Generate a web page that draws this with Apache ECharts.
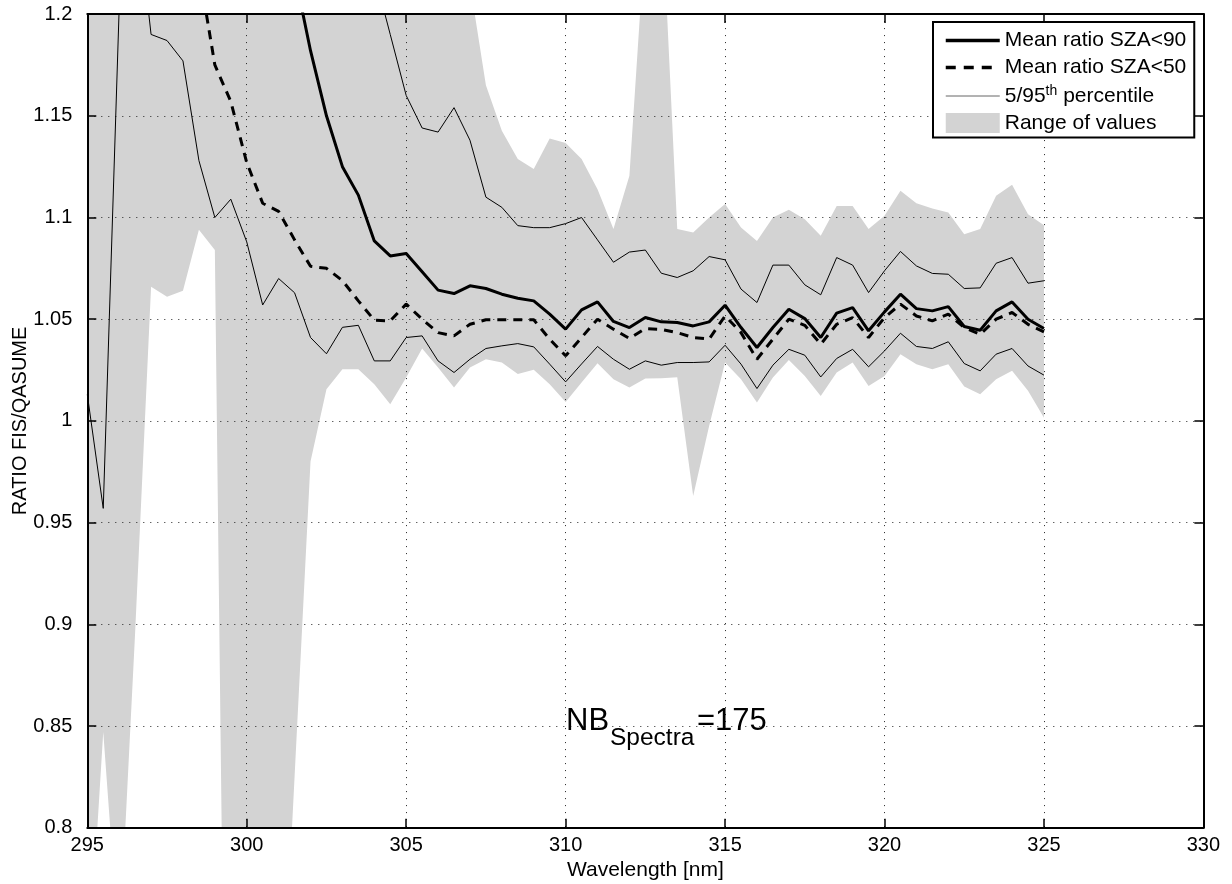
<!DOCTYPE html>
<html>
<head>
<meta charset="utf-8">
<script src="https://cdn.jsdelivr.net/npm/echarts@6/dist/echarts.min.js"></script>
<style>
html,body{margin:0;padding:0;background:#fff;}
#c{width:1232px;height:884px;}
</style>
</head>
<body>
<div id="c"></div>
<script>
// ---------------- data ----------------
const wavelength = [295,295.5,296,296.5,297,297.5,298,298.5,299,299.5,
  300,300.5,301,301.5,302,302.5,303,303.5,304,304.5,
  305,305.5,306,306.5,307,307.5,308,308.5,309,309.5,
  310,310.5,311,311.5,312,312.5,313,313.5,314,314.5,
  315,315.5,316,316.5,317,317.5,318,318.5,319,319.5,
  320,320.5,321,321.5,322,322.5,323,323.5,324,324.5,325];

const rangeMax = [2.0,2.1,2.1,2.0,1.9,1.8,1.72,1.65,1.6,1.55,
  1.5,1.46,1.43,1.40,1.38,1.36,1.34,1.32,1.30,1.29,
  1.28,1.27,1.25,1.235,1.215,1.165,1.1426,1.1287,1.1238,1.1389,
  1.1366,1.1287,1.1139,1.0943,1.1205,1.24,1.26,1.0943,1.0926,1.1,
  1.1066,1.0951,1.0885,1.1,1.1038,1.0992,1.091,1.1057,1.1057,1.0943,
  1.1008,1.1131,1.107,1.1044,1.1025,1.0918,1.0943,1.1107,1.1161,1.1016,1.0962];

const rangeMin = [0.72,0.847,0.74,0.896,1.066,1.061,1.064,1.094,1.084,0.42,
  0.45,0.5,0.67,0.825,0.980,1.0156,1.0254,1.0254,1.018,1.0082,
  1.0213,1.0356,1.0262,1.0164,1.0262,1.0303,1.0287,1.023,1.0251,1.018,
  1.0093,1.0189,1.0284,1.0205,1.0164,1.0208,1.021,1.0215,0.9631,0.9975,
  1.0287,1.0205,1.009,1.0213,1.03,1.0221,1.0123,1.0238,1.0287,1.0172,
  1.0221,1.0328,1.0279,1.0254,1.0279,1.0169,1.0131,1.0205,1.0246,1.0148,1.0016];

const pct5 = [1.013,0.957,1.203,1.26,1.190,1.187,1.177,1.128,1.100,1.109,
  1.088,1.057,1.070,1.063,1.041,1.033,1.046,1.047,1.0295,1.0295,
  1.041,1.0418,1.0295,1.0238,1.0303,1.0356,1.0369,1.038,1.0364,1.0279,
  1.0192,1.028,1.0366,1.0303,1.0254,1.0295,1.0274,1.0287,1.0287,1.029,
  1.0372,1.0279,1.0159,1.0274,1.0352,1.0323,1.0216,1.0307,1.0352,1.0266,
  1.0344,1.0431,1.0366,1.0356,1.0389,1.0282,1.0246,1.0328,1.0356,1.027,1.0225];

const pct95 = [1.70,1.72,1.68,1.62,1.56,1.52,1.48,1.44,1.41,1.38,
  1.36,1.34,1.32,1.30,1.29,1.275,1.26,1.245,1.22,1.19,
  1.160,1.144,1.142,1.154,1.138,1.110,1.105,1.096,1.095,1.095,
  1.097,1.100,1.089,1.078,1.083,1.084,1.0726,1.0705,1.0738,1.0808,
  1.0792,1.0648,1.0582,1.0766,1.0766,1.0669,1.062,1.0803,1.0766,1.0631,
  1.0738,1.0833,1.0762,1.0725,1.0721,1.0651,1.0654,1.0775,1.0803,1.0677,1.0689];

const meanSza90 = [1.55,1.52,1.50,1.47,1.44,1.41,1.38,1.35,1.32,1.30,
  1.28,1.26,1.24,1.22,1.182,1.150,1.125,1.111,1.0885,1.0811,
  1.0823,1.0733,1.0643,1.0626,1.0664,1.0651,1.0623,1.0603,1.059,1.0525,
  1.0451,1.0546,1.0585,1.0489,1.0459,1.0508,1.0487,1.0484,1.0467,1.0487,
  1.0569,1.0459,1.0361,1.0459,1.0549,1.0503,1.041,1.053,1.0557,1.0443,
  1.0536,1.0623,1.0552,1.0541,1.0562,1.0464,1.0446,1.0541,1.0585,1.05,1.0454];

const meanSza50 = [1.42,1.40,1.37,1.34,1.31,1.28,1.25,1.222,1.175,1.157,
  1.127,1.107,1.103,1.089,1.076,1.075,1.069,1.059,1.0495,1.0492,
  1.0574,1.05,1.0434,1.0418,1.0475,1.0497,1.0497,1.0497,1.0497,1.0402,
  1.032,1.041,1.05,1.0451,1.0405,1.0454,1.045,1.0434,1.041,1.0402,
  1.0516,1.0434,1.0303,1.0402,1.05,1.047,1.0377,1.0475,1.0508,1.041,
  1.0508,1.0574,1.0516,1.0492,1.0525,1.0459,1.0426,1.05,1.0533,1.0475,1.0438];

const xTicks = [295, 330, 5];      // min, max, step
const yTicks = [0.8, 1.2, 0.05];   // min, max, step

const legendNames = ['Mean ratio SZA<90', 'Mean ratio SZA<50', '5/95th percentile', 'Range of values'];
const annotation = { base: 'NB', sub: 'Spectra', rest: '=175' };

// ---------------- chart ----------------
const FONT = '"Liberation Sans", Arial, Helvetica, sans-serif';
const GRAY = '#d3d3d3';
const pairs = ys => wavelength.map((w, i) => [w, ys[i]]);

const chart = echarts.init(document.getElementById('c'), null, { renderer: 'canvas' });

const axisLineStyle = { color: '#000', width: 2 };
const tickStyle = { color: '#000', width: 1.5 };
const gridDots = { color: '#222', width: 1, type: [1, 6] };
const hideSymbol = { opacity: 0 };

const option = {
  animation: false,
  backgroundColor: '#fff',
  grid: { left: 87.3, right: 28.6, top: 14.1, bottom: 56.3, outerBoundsMode: 'none', containLabel: false },
  legend: {
    data: [
      { name: legendNames[0], itemStyle: hideSymbol, lineStyle: { color: '#000', width: 3.5, type: 'solid' } },
      { name: legendNames[1], itemStyle: hideSymbol, lineStyle: { color: '#000', width: 3.5, type: [10, 8], cap: 'butt' } },
      { name: legendNames[2], itemStyle: hideSymbol, lineStyle: { color: '#666', width: 1, type: 'solid' } },
      { name: legendNames[3], icon: 'rect' }
    ],
    orient: 'vertical',
    left: 933, top: 22,
    padding: [8, 8, 4, 11],
    itemWidth: 54, itemHeight: 20, itemGap: 6,
    backgroundColor: '#fff',
    borderColor: '#000', borderWidth: 2,
    selectedMode: false,
    formatter: name => name === legendNames[2] ? '{n|5/95}{sup|th}{n| percentile}' : '{n|' + name + '}',
    textStyle: {
      color: '#000', fontFamily: FONT, fontSize: 21,
      rich: {
        n: { color: '#000', fontFamily: FONT, fontSize: 21, lineHeight: 24 },
        sup: { color: '#000', fontFamily: FONT, fontSize: 14, lineHeight: 14, verticalAlign: 'top' }
      }
    }
  },
  xAxis: [
    {
      type: 'value', position: 'bottom', min: xTicks[0], max: xTicks[1], interval: xTicks[2],
      axisLine: { show: true, onZero: false, lineStyle: axisLineStyle },
      axisTick: { show: true, inside: true, length: 9, lineStyle: tickStyle },
      axisLabel: { color: '#000', fontFamily: FONT, fontSize: 20, margin: 8 },
      splitLine: { show: true, lineStyle: gridDots },
      name: 'Wavelength [nm]', nameLocation: 'middle', nameGap: 32, nameMoveOverlap: false,
      nameTextStyle: { color: '#000', fontFamily: FONT, fontSize: 21 }
    },
    {
      type: 'value', position: 'top', min: xTicks[0], max: xTicks[1], interval: xTicks[2],
      axisLine: { show: true, onZero: false, lineStyle: axisLineStyle },
      axisTick: { show: true, inside: true, length: 9, lineStyle: tickStyle },
      axisLabel: { show: false },
      splitLine: { show: false }
    }
  ],
  yAxis: [
    {
      type: 'value', position: 'left', min: yTicks[0], max: yTicks[1], interval: yTicks[2],
      axisLine: { show: true, onZero: false, lineStyle: axisLineStyle },
      axisTick: { show: true, inside: true, length: 9, lineStyle: tickStyle },
      axisLabel: { color: '#000', fontFamily: FONT, fontSize: 20, margin: 15,
        formatter: v => String(parseFloat(v.toFixed(2))) },
      splitLine: { show: true, lineStyle: gridDots },
      name: 'RATIO FIS/QASUME', nameLocation: 'middle', nameGap: 57, nameMoveOverlap: false,
      nameTextStyle: { color: '#000', fontFamily: FONT, fontSize: 20 }
    },
    {
      type: 'value', position: 'right', min: yTicks[0], max: yTicks[1], interval: yTicks[2],
      axisLine: { show: true, onZero: false, lineStyle: axisLineStyle },
      axisTick: { show: true, inside: true, length: 9, lineStyle: tickStyle },
      axisLabel: { show: false },
      splitLine: { show: false }
    }
  ],
  series: [
    {
      type: 'custom', name: legendNames[3], coordinateSystem: 'cartesian2d',
      xAxisIndex: 0, yAxisIndex: 0, z: -1, silent: true,
      itemStyle: { color: GRAY },
      data: wavelength.map((w, i) => [w, rangeMin[i], rangeMax[i]]),
      encode: { x: 0, y: [1, 2] },
      renderItem: function (params, api) {
        if (params.dataIndex !== 0) return null;
        const upper = wavelength.map((w, i) => api.coord([w, rangeMax[i]]));
        const lower = wavelength.map((w, i) => api.coord([w, rangeMin[i]])).reverse();
        const cs = params.coordSys;
        return {
          type: 'polygon',
          shape: { points: upper.concat(lower) },
          style: { fill: GRAY, stroke: null },
          clipPath: { type: 'rect', shape: { x: cs.x, y: cs.y, width: cs.width, height: cs.height } }
        };
      }
    },
    {
      type: 'line', name: legendNames[2], data: pairs(pct5), symbol: 'none', silent: true, clip: true,
      itemStyle: { color: '#000' }, lineStyle: { color: '#000', width: 1 }, z: 3
    },
    {
      type: 'line', name: legendNames[2], data: pairs(pct95), symbol: 'none', silent: true, clip: true,
      itemStyle: { color: '#000' }, lineStyle: { color: '#000', width: 1 }, z: 3
    },
    {
      type: 'line', name: legendNames[1], data: pairs(meanSza50), symbol: 'none', silent: true, clip: true,
      itemStyle: { color: '#000' }, lineStyle: { color: '#000', width: 3, type: [9, 7], cap: 'butt' }, z: 4
    },
    {
      type: 'line', name: legendNames[0], data: pairs(meanSza90), symbol: 'none', silent: true, clip: true,
      itemStyle: { color: '#000' }, lineStyle: { color: '#000', width: 3 }, z: 5
    }
  ],
  graphic: [
    { type: 'text', z: 100, style: { x: 566, y: 721, text: annotation.base, fill: '#000',
      font: '31px ' + FONT, verticalAlign: 'middle', align: 'left' } },
    { type: 'text', z: 100, style: { x: 610, y: 738, text: annotation.sub, fill: '#000',
      font: '24.5px ' + FONT, verticalAlign: 'middle', align: 'left' } },
    { type: 'text', z: 100, style: { x: 697, y: 721, text: annotation.rest, fill: '#000',
      font: '31px ' + FONT, verticalAlign: 'middle', align: 'left' } }
  ]
};

chart.setOption(option);
</script>
</body>
</html>
